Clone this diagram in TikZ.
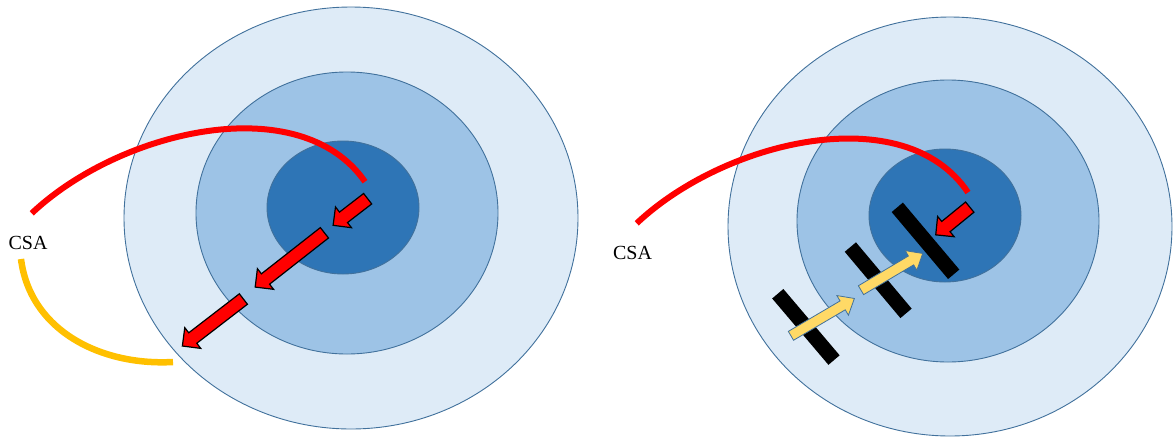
\documentclass[tikz,border=0pt]{standalone}
\usepackage{fontspec}
\setmainfont{Liberation Serif}
\usetikzlibrary{shapes.arrows}

\definecolor{ringouter}{HTML}{DEEBF7}
\definecolor{ringmid}{HTML}{9DC3E6}
\definecolor{ringcore}{HTML}{2E75B6}
\definecolor{ringline}{HTML}{41719C}
\definecolor{pathred}{HTML}{FF0000}
\definecolor{pathgold}{HTML}{FFC000}
\definecolor{pushgold}{HTML}{FFD966}

\begin{document}
\begin{tikzpicture}[x=1pt,y=-1pt,
  ring/.style={draw=ringline, line width=0.9pt},
  redpath/.style={draw=pathred, line width=6pt},
  goldpath/.style={draw=pathgold, line width=6.5pt},
  redarrow/.style={single arrow, draw=black, line width=1.2pt, fill=pathred,
    inner xsep=0pt, inner ysep=6pt, minimum width=0pt,
    single arrow head extend=6.5pt, single arrow tip angle=90,
    text height=0pt, text depth=0pt},
  goldarrow/.style={single arrow, draw=ringline, line width=0.8pt, fill=pushgold,
    inner xsep=0pt, inner ysep=4.75pt, minimum width=0pt,
    single arrow head extend=6.25pt, single arrow tip angle=80,
    text height=0pt, text depth=0pt},
  barrier/.style={rectangle, fill=black, minimum height=14.7pt, inner sep=0pt},
  csalabel/.style={font=\fontsize{20}{24}\selectfont, inner sep=0pt, text=black}
]
\useasboundingbox (0,0) rectangle (1173,437);

% ---- left target: nested zones ----
\path[ring, fill=ringouter] (351,218) ellipse [x radius=227pt, y radius=211pt];
\path[ring, fill=ringmid]   (347,213) ellipse [x radius=151pt, y radius=141pt];
\path[ring, fill=ringcore]  (343,207.5) ellipse [x radius=76pt, y radius=66.5pt];

% ---- right target: nested zones ----
\path[ring, fill=ringouter] (950,226.5) ellipse [x radius=222pt, y radius=209.5pt];
\path[ring, fill=ringmid]   (948,221) ellipse [x radius=151pt, y radius=141pt];
\path[ring, fill=ringcore]  (945,215.5) ellipse [x radius=76pt, y radius=66.5pt];

% ---- labels ----
\node[csalabel] (csaL) at (28,243.3) {CSA};
\node[csalabel] (csaR) at (632.5,252.7) {CSA};

% ---- incoming / outgoing arcs ----
\draw[redpath] (31.7,213.3) .. controls (120,130) and (300,88) .. (365,181.7);
\draw[goldpath] (21,259) .. controls (30,330) and (100,366) .. (173,362);
\draw[redpath] (636.7,223.3) .. controls (725,140) and (905,98) .. (968,192.5);

% ---- left: outward red arrows ----
\node[redarrow, minimum height=43.6pt, rotate=217.6] (outA) at (353,210) {};
\node[redarrow, minimum height=88pt,   rotate=218.1] (outB) at (292.4,257.9) {};
\node[redarrow, minimum height=77pt,   rotate=217.6] (outC) at (215.5,320.5) {};

% ---- right: barriers ----
\node[barrier, minimum width=87.6pt, rotate=-49.9]  (barA) at (925.5,240.8) {};
\node[barrier, minimum width=86.6pt, rotate=-49.97] (barB) at (878.2,280.2) {};
\node[barrier, minimum width=87pt,   rotate=-49.7]  (barC) at (805.9,326.9) {};

% ---- right: inward yellow arrows and red arrow ----
\node[goldarrow, minimum height=73.6pt, rotate=30.47] (inA) at (820,318.7) {};
\node[goldarrow, minimum height=71.8pt, rotate=30.75] (inB) at (889.2,273.4) {};
\node[redarrow, minimum height=43.9pt, rotate=219.2] (inC) at (955.3,218.9) {};
\end{tikzpicture}
\end{document}
